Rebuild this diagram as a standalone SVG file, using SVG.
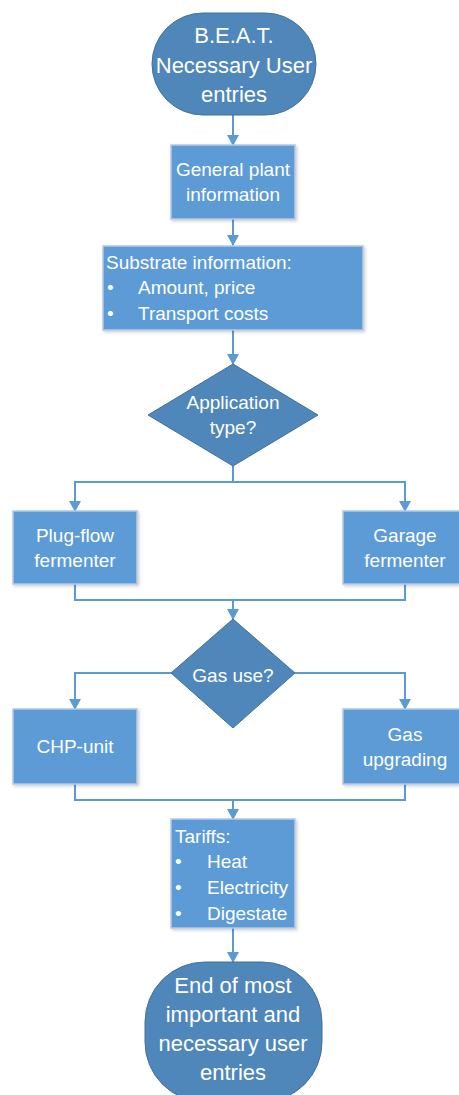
<svg xmlns="http://www.w3.org/2000/svg" width="459" height="1095" viewBox="0 0 459 1095">
<style>
.term{fill:#4F87BA;stroke:#41719C;stroke-width:1}
.dia{fill:#4F87BA;stroke:#41719C;stroke-width:1}
.box{fill:#5B9BD5;stroke:#B4C9E6;stroke-width:1.5;filter:url(#sh)}
.t{font-family:"Liberation Sans",Arial,sans-serif;fill:#FFFFFF;font-size:19px}
.c{text-anchor:middle}
.big{font-size:22px}
.ln{fill:none;stroke:#5B9BD5;stroke-width:2}
</style>
<defs>
<marker id="ah" markerUnits="userSpaceOnUse" markerWidth="12" markerHeight="12" refX="10" refY="6" orient="auto">
<path d="M0,0 L11,6 L0,12 Z" fill="#5B9BD5"/>
</marker>
<filter id="sh" x="-10%" y="-10%" width="130%" height="130%">
<feDropShadow dx="1.5" dy="1.5" stdDeviation="1.5" flood-color="#000" flood-opacity="0.2"/>
</filter>
</defs>
<g id="connectors">
<line class="ln" x1="233" y1="115" x2="233" y2="145" marker-end="url(#ah)"/>
<line class="ln" x1="233" y1="219" x2="233" y2="245" marker-end="url(#ah)"/>
<line class="ln" x1="233" y1="330" x2="233" y2="364" marker-end="url(#ah)"/>
<polyline class="ln" points="233,466 233,482 75,482 75,511" marker-end="url(#ah)"/>
<polyline class="ln" points="233,482 405,482 405,511" marker-end="url(#ah)"/>
<polyline class="ln" points="75,584 75,600 405,600 405,584"/>
<line class="ln" x1="233" y1="600" x2="233" y2="619" marker-end="url(#ah)"/>
<polyline class="ln" points="171,673 75,673 75,709" marker-end="url(#ah)"/>
<polyline class="ln" points="295,673 405,673 405,709" marker-end="url(#ah)"/>
<polyline class="ln" points="75,784 75,800 405,800 405,784"/>
<line class="ln" x1="233" y1="800" x2="233" y2="819" marker-end="url(#ah)"/>
<line class="ln" x1="233" y1="928" x2="233" y2="962" marker-end="url(#ah)"/>
</g>
<g id="start">
<rect class="term" x="152" y="13" width="164" height="102" rx="51" ry="51"/>
<text class="t c big" x="234" y="43">B.E.A.T.</text>
<text class="t c big" x="234" y="73">Necessary User</text>
<text class="t c big" x="234" y="102">entries</text>
</g>
<g id="general">
<rect class="box" x="171" y="145" width="124" height="74"/>
<text class="t c" x="233" y="176">General plant</text>
<text class="t c" x="233" y="201">information</text>
</g>
<g id="substrate">
<rect class="box" x="103" y="246" width="260" height="84"/>
<text class="t" x="106" y="269">Substrate information:</text>
<text class="t" x="107" y="294">•</text>
<text class="t" x="138" y="294">Amount, price</text>
<text class="t" x="107" y="320">•</text>
<text class="t" x="138" y="320">Transport costs</text>
</g>
<g id="apptype">
<polygon class="dia" points="233,364 318,415 233,466 148,415"/>
<text class="t c" x="233" y="409">Application</text>
<text class="t c" x="233" y="434">type?</text>
</g>
<g id="plugflow">
<rect class="box" x="13" y="511" width="124" height="73"/>
<text class="t c" x="75" y="542">Plug-flow</text>
<text class="t c" x="75" y="567">fermenter</text>
</g>
<g id="garage">
<rect class="box" x="343" y="511" width="124" height="73"/>
<text class="t c" x="405" y="542">Garage</text>
<text class="t c" x="405" y="567">fermenter</text>
</g>
<g id="gasuse">
<polygon class="dia" points="233,619 295,673 233,728 171,673"/>
<text class="t c" x="233" y="682">Gas use?</text>
</g>
<g id="chp">
<rect class="box" x="13" y="709" width="124" height="75"/>
<text class="t c" x="75" y="753">CHP-unit</text>
</g>
<g id="upgrading">
<rect class="box" x="343" y="709" width="124" height="75"/>
<text class="t c" x="405" y="741">Gas</text>
<text class="t c" x="405" y="766">upgrading</text>
</g>
<g id="tariffs">
<rect class="box" x="171" y="819" width="124" height="109"/>
<text class="t" x="175" y="843">Tariffs:</text>
<text class="t" x="175" y="868">•</text>
<text class="t" x="207" y="868">Heat</text>
<text class="t" x="175" y="894">•</text>
<text class="t" x="207" y="894">Electricity</text>
<text class="t" x="175" y="920">•</text>
<text class="t" x="207" y="920">Digestate</text>
</g>
<g id="end">
<rect class="term" x="145" y="962" width="177" height="140" rx="60" ry="60"/>
<text class="t c big" x="233" y="993">End of most</text>
<text class="t c big" x="233" y="1022">important and</text>
<text class="t c big" x="233" y="1051">necessary user</text>
<text class="t c big" x="233" y="1080">entries</text>
</g>
</svg>
